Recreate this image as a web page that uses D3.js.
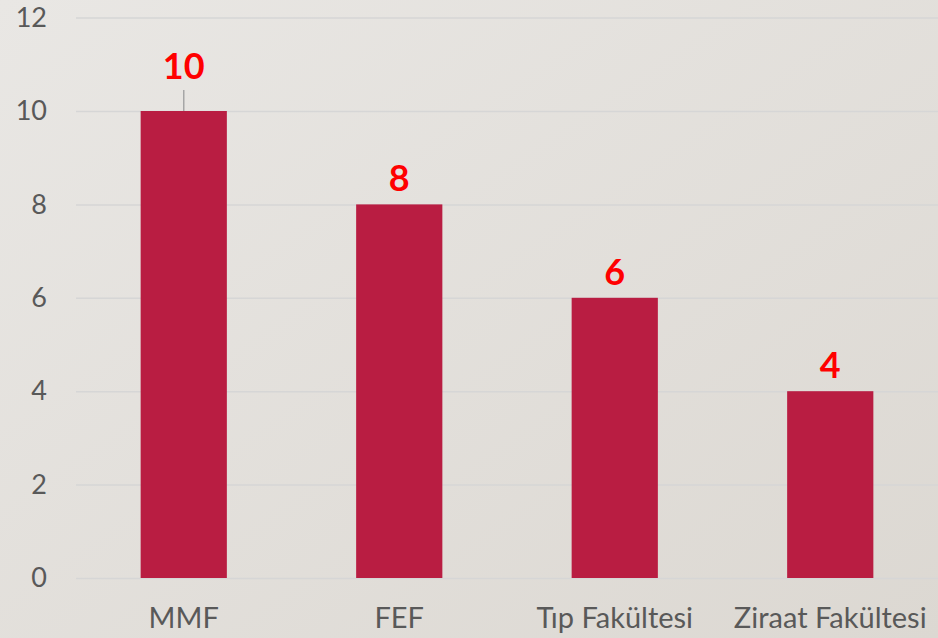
<!DOCTYPE html>
<html>
<head>
<meta charset="utf-8">
<script src="https://cdn.jsdelivr.net/npm/d3@7"></script>
<style>
  html, body { margin: 0; padding: 0; overflow: hidden; }
  svg { display: block; }
</style>
</head>
<body>
<script>
// chart data
const categories = ['MMF', 'FEF', 'Tıp Fakültesi', 'Ziraat Fakültesi'];
const values = [10, 8, 6, 4];
const yTicks = [0, 2, 4, 6, 8, 10, 12];

const width = 938;
const height = 638;

const svg = d3.select('body')
  .append('svg')
  .attr('width', width)
  .attr('height', height);

// soft background gradient
const grad = svg.append('defs')
  .append('linearGradient')
  .attr('id', 'bg')
  .attr('x1', '0%').attr('y1', '0%')
  .attr('x2', '100%').attr('y2', '100%');
grad.append('stop').attr('offset', '0%').attr('stop-color', '#e9e7e4');
grad.append('stop').attr('offset', '100%').attr('stop-color', '#dcd8d2');

svg.append('rect')
  .attr('width', width)
  .attr('height', height)
  .attr('fill', 'url(#bg)');

const x = d3.scaleBand()
  .domain(categories)
  .range([76, 938])
  .paddingInner(0.6)
  .paddingOuter(0.3);

const y = d3.scaleLinear()
  .domain([0, 12])
  .range([578, 17.6]);

// gridlines + tick labels
const yAxis = svg.append('g')
  .attr('transform', 'translate(76,0)')
  .call(d3.axisLeft(y).tickValues(yTicks).tickSize(-(width - 76)).tickPadding(29));

yAxis.select('.domain').remove();
yAxis.selectAll('.tick line')
  .attr('stroke', '#d6d6d6')
  .attr('stroke-width', 1.5);
yAxis.selectAll('.tick text')
  .attr('fill', '#595959')
  .style('font-family', 'Lato, "Open Sans", sans-serif')
  .style('font-size', '27px');

// bars
svg.selectAll('.bar')
  .data(values)
  .enter()
  .append('rect')
  .attr('class', 'bar')
  .attr('x', (d, i) => x(categories[i]))
  .attr('y', (d) => y(d))
  .attr('width', x.bandwidth())
  .attr('height', (d) => y(0) - y(d))
  .attr('fill', '#b91d42');

// leader line for the first label (it sits higher than the rest)
svg.append('line')
  .attr('x1', x(categories[0]) + x.bandwidth() / 2)
  .attr('x2', x(categories[0]) + x.bandwidth() / 2)
  .attr('y1', y(values[0]) - 21)
  .attr('y2', y(values[0]))
  .attr('stroke', '#a6a6a6')
  .attr('stroke-width', 1.5);

// value labels
svg.selectAll('.label')
  .data(values)
  .enter()
  .append('text')
  .attr('class', 'label')
  .attr('x', (d, i) => x(categories[i]) + x.bandwidth() / 2)
  .attr('y', (d, i) => y(d) - (i === 0 ? 32 : 13))
  .attr('text-anchor', 'middle')
  .attr('fill', '#ff0000')
  .style('font-family', 'Lato, "Open Sans", sans-serif')
  .style('font-weight', 'bold')
  .style('font-size', '36px')
  .text((d) => d);

// category labels
svg.selectAll('.cat')
  .data(categories)
  .enter()
  .append('text')
  .attr('class', 'cat')
  .attr('x', (d) => x(d) + x.bandwidth() / 2)
  .attr('y', 628)
  .attr('text-anchor', 'middle')
  .attr('fill', '#595959')
  .style('font-family', 'Lato, "Open Sans", sans-serif')
  .style('font-size', '29px')
  .text((d) => d);
</script>
</body>
</html>
